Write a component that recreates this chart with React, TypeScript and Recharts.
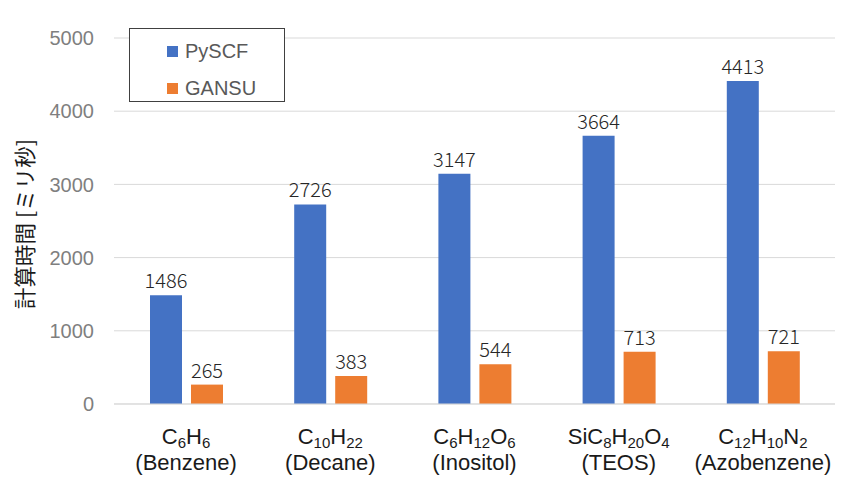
import React from 'react';
import { BarChart, Bar, XAxis, YAxis, CartesianGrid, LabelList } from 'recharts';

const categories = ['Benzene', 'Decane', 'Inositol', 'TEOS', 'Azobenzene'];
// formula parts: [element, subscript]
const formulas: [string, string][][] = [
  [['C', '6'], ['H', '6']],
  [['C', '10'], ['H', '22']],
  [['C', '6'], ['H', '12'], ['O', '6']],
  [['Si', ''], ['C', '8'], ['H', '20'], ['O', '4']],
  [['C', '12'], ['H', '10'], ['N', '2']],
];
const pyscf = [1486, 2726, 3147, 3664, 4413];
const gansu = [265, 383, 544, 713, 721];
const yTicks = [0, 1000, 2000, 3000, 4000, 5000];

const BLUE = '#4472C4';
const ORANGE = '#ED7D31';
const LATIN = '"Liberation Sans", Arial, sans-serif';
const CJK = '"Noto Sans CJK JP", sans-serif';

const data = categories.map((name, i) => ({ name, pyscf: pyscf[i], gansu: gansu[i] }));

const CategoryTick = (props: any) => {
  const { x, y, payload } = props;
  const parts = formulas[payload.index] || [];
  const spans: React.ReactNode[] = [];
  let lowered = false;
  parts.forEach(([el, sub], k) => {
    spans.push(
      <tspan key={`e${k}`} dy={lowered ? -4 : 0}>
        {el}
      </tspan>
    );
    lowered = false;
    if (sub) {
      spans.push(
        <tspan key={`s${k}`} fontSize={15} dy={4}>
          {sub}
        </tspan>
      );
      lowered = true;
    }
  });
  return (
    <g transform={`translate(${x},${y})`}>
      <text x={0} y={32} textAnchor="middle" fontFamily={LATIN} fontSize={22} fill="#1a1a1a">
        {spans}
      </text>
      <text x={0} y={58} textAnchor="middle" fontFamily={LATIN} fontSize={22} fill="#1a1a1a">
        ({payload.value})
      </text>
    </g>
  );
};

const LegendBox = () => (
  <div
    style={{
      position: 'absolute',
      left: 129,
      top: 28,
      width: 156,
      height: 74,
      border: '1.5px solid #404040',
      background: '#fff',
      fontFamily: LATIN,
      fontSize: 20,
      color: '#595959',
      boxSizing: 'border-box',
    }}
  >
    {[
      ['PySCF', BLUE, 11],
      ['GANSU', ORANGE, 48],
    ].map(([label, color, top]) => (
      <div key={label as string} style={{ position: 'absolute', left: 37, top: top as number, display: 'flex', alignItems: 'center' }}>
        <span style={{ display: 'inline-block', width: 11, height: 11, background: color as string, marginRight: 7 }} />
        <span style={{ lineHeight: '22px' }}>{label}</span>
      </div>
    ))}
  </div>
);

export default function App() {
  return (
    <div style={{ position: 'absolute', left: 0, top: 0, width: 849, height: 481, background: '#fff' }}>
      <BarChart
        width={849}
        height={481}
        data={data}
        margin={{ top: 38, right: 14, bottom: 7, left: 0 }}
        barSize={32}
        barGap={9}
      >
        <CartesianGrid vertical={false} stroke="#d9d9d9" />
        <XAxis
          dataKey="name"
          interval={0}
          height={70}
          axisLine={{ stroke: '#d9d9d9' }}
          tickLine={false}
          tick={<CategoryTick />}
        />
        <YAxis
          width={114}
          domain={[0, 5000]}
          ticks={yTicks}
          axisLine={false}
          tickLine={false}
          tickSize={0}
          tickMargin={20}
          tick={{ fill: '#7f7f7f', fontSize: 20, fontFamily: LATIN }}
          label={() => (
            <text
              x={23}
              y={224}
              transform="rotate(-90, 23, 224)"
              textAnchor="middle"
              dominantBaseline="central"
              fontFamily={CJK}
              fontSize={21.5}
              fill="#1a1a1a"
            >
              計算時間 [ミリ秒]
            </text>
          )}
        />
        <Bar dataKey="pyscf" name="PySCF" fill={BLUE} isAnimationActive={false}>
          <LabelList dataKey="pyscf" position="top" offset={7} fill="#262626" fontSize={20} fontFamily={CJK} fontWeight={300} />
        </Bar>
        <Bar dataKey="gansu" name="GANSU" fill={ORANGE} isAnimationActive={false}>
          <LabelList dataKey="gansu" position="top" offset={7} fill="#262626" fontSize={20} fontFamily={CJK} fontWeight={300} />
        </Bar>
      </BarChart>
      <LegendBox />
    </div>
  );
}
